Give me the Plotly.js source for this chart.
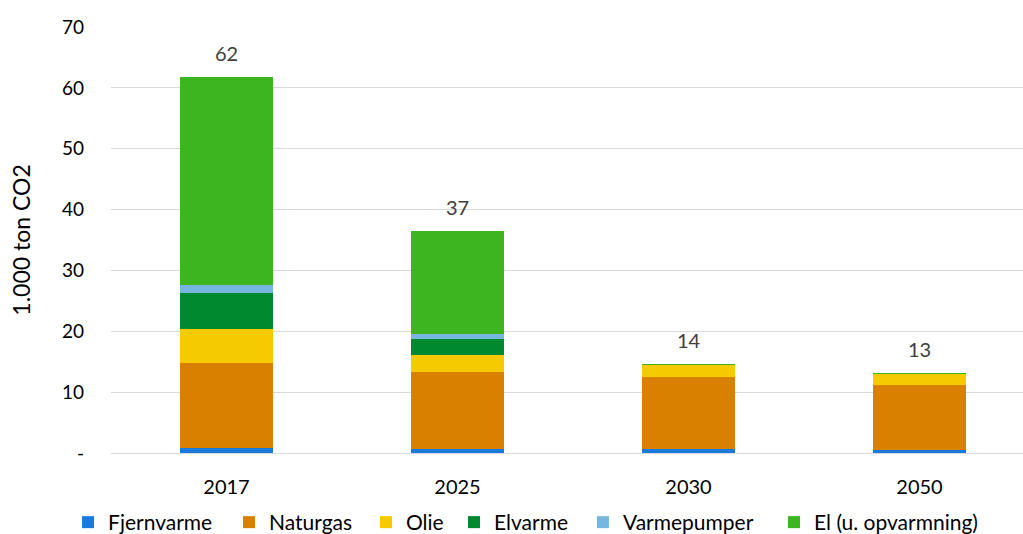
<!DOCTYPE html>
<html>
<head>
<meta charset="utf-8">
<script src="https://cdn.plot.ly/plotly-3.0.1.min.js"></script>
<style>html,body{margin:0;padding:0;background:#fff;}#chart{width:1023px;height:534px;}</style>
</head>
<body>
<div id="chart"></div>
<script>
const years = ["2017", "2025", "2030", "2050"];
const fjernvarme = [0.8, 0.6, 0.6, 0.5];
const naturgas = [14.0, 12.7, 11.9, 10.7];
const olie = [5.6, 2.8, 2.0, 1.8];
const elvarme = [5.9, 2.6, 0, 0];
const varmepumper = [1.3, 0.9, 0, 0];
const elUOpv = [34.2, 16.9, 0.2, 0.1];
const totalLabels = ["62", "37", "14", "13"];
const yTickVals = [0, 10, 20, 30, 40, 50, 60, 70];
const yTickText = ["-", "10", "20", "30", "40", "50", "60", "70"];

const seriesNames = ["Fjernvarme", "Naturgas", "Olie", "Elvarme", "Varmepumper", "El (u. opvarmning)"];
const seriesData = [fjernvarme, naturgas, olie, elvarme, varmepumper, elUOpv];
const colors = ["#1A7ADB", "#D98000", "#F5CB00", "#00892E", "#77B6DE", "#3CB521"];

const FONT = "Lato, 'Open Sans', sans-serif";
const legendIds = ["legend", "legend2", "legend3", "legend4", "legend5", "legend6"];
const legendX = [-0.0471, 0.1294, 0.2796, 0.3761, 0.5175, 0.7270];

const traces = seriesNames.map((n, i) => ({
  type: "bar",
  name: n,
  x: years,
  y: seriesData[i],
  width: 0.4,
  legend: legendIds[i],
  marker: {color: colors[i], line: {width: 0}},
  hoverinfo: "name+y"
}));

const totals = years.map((_, j) => seriesData.reduce((s, arr) => s + arr[j], 0));
traces.push({
  type: "scatter",
  mode: "markers+text",
  x: years,
  y: totals,
  text: totalLabels,
  textposition: "top center",
  textfont: {family: FONT, size: 20, color: "#404040"},
  marker: {size: 16, color: "rgba(0,0,0,0)"},
  showlegend: false,
  hoverinfo: "skip",
  cliponaxis: false
});

const layout = {
  width: 1023, height: 534,
  barmode: "stack",
  margin: {l: 111, r: 0, t: 27, b: 81, pad: 0, autoexpand: false},
  paper_bgcolor: "#fff", plot_bgcolor: "#fff",
  font: {family: FONT, size: 19, color: "#000"},
  xaxis: {
    type: "category",
    range: [-0.5, 3.448],
    showgrid: false, zeroline: false, showline: false,
    ticks: "", tickfont: {size: 20, color: "#000"},
    ticklabelstandoff: 20,
    fixedrange: true
  },
  yaxis: {
    range: [0, 70],
    tickvals: yTickVals, ticktext: yTickText,
    showgrid: true, gridcolor: "#D9D9D9", gridwidth: 1,
    zeroline: true, zerolinecolor: "#D9D9D9", zerolinewidth: 1,
    showline: false, ticks: "", ticklabelstandoff: 26,
    tickfont: {size: 19, color: "#000"},
    title: {text: "1.000 ton CO2", font: {size: 23, color: "#000"}, standoff: 24},
    fixedrange: true
  },
  showlegend: true
};
legendIds.forEach((id, i) => {
  layout[id] = {
    orientation: "h", x: legendX[i], xanchor: "left", y: -0.115, yanchor: "top",
    font: {size: 21, color: "#000"}, itemwidth: 30, bgcolor: "rgba(0,0,0,0)"
  };
});

Plotly.newPlot("chart", traces, layout, {displayModeBar: false, staticPlot: true});
</script>
</body>
</html>
